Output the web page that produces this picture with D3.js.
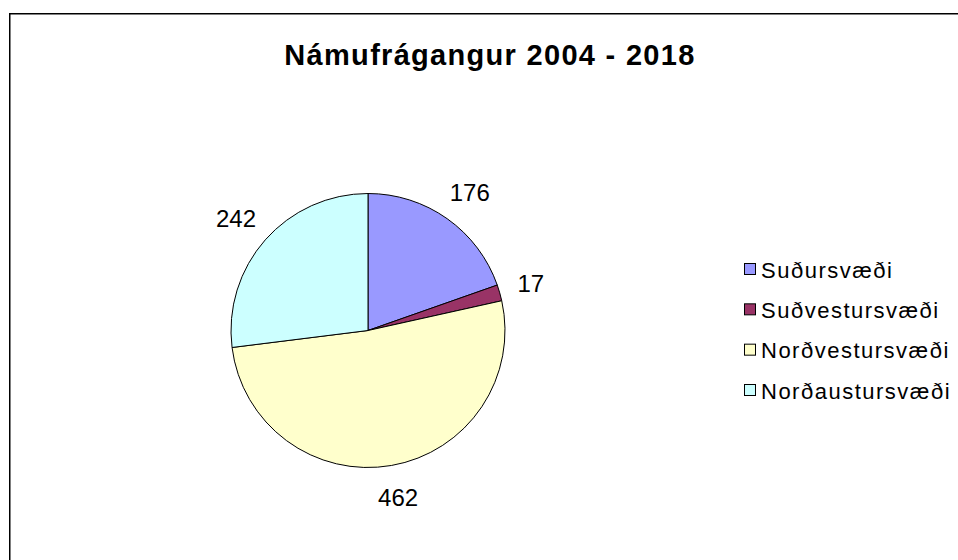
<!DOCTYPE html>
<html><head><meta charset="utf-8">
<script src="https://cdn.jsdelivr.net/npm/d3@7"></script>
<style>html,body{margin:0;padding:0;background:#fff;overflow:hidden}</style>
</head><body>
<svg id="c" width="958" height="560"></svg>
<script>
const title = "Námufrágangur 2004 - 2018";
const categories = ["Suðursvæði", "Suðvestursvæði", "Norðvestursvæði", "Norðaustursvæði"];
const values = [176, 17, 462, 242];
const colors = ["#9999FF", "#993366", "#FFFFCC", "#CCFFFF"];

const svg = d3.select("#c");
const font = "'Liberation Sans', Arial, sans-serif";

svg.append("rect").attr("x", 9.75).attr("y", 13.75).attr("width", 1200).attr("height", 1200)
  .attr("fill", "#fff").attr("stroke", "#000").attr("stroke-width", 1.5);

svg.append("text").attr("x", 490).attr("y", 65).attr("text-anchor", "middle")
  .attr("font-family", font).attr("font-weight", "bold").attr("font-size", 29)
  .attr("letter-spacing", 1.3).text(title);

const cx = 368, cy = 330.5, r = 137;
const color = d3.scaleOrdinal().domain(categories).range(colors);
const pie = d3.pie().sort(null).value(d => d.v);
const data = categories.map((c, i) => ({c, v: values[i]}));
const arcs = pie(data);
const arc = d3.arc().innerRadius(0).outerRadius(r);
const g = svg.append("g").attr("transform", `translate(${cx},${cy})`);
g.selectAll("path").data(arcs).join("path")
  .attr("d", arc).attr("fill", d => color(d.data.c))
  .attr("stroke", "#000").attr("stroke-width", 1);

const labelArc = d3.arc().innerRadius(r + 19).outerRadius(r + 19);
g.selectAll("text.lab").data(arcs).join("text").attr("class", "lab")
  .attr("font-family", font).attr("font-size", 24)
  .attr("text-anchor", "middle").attr("dominant-baseline", "central")
  .text(d => d.data.v)
  .attr("transform", function(d) {
    const bb = this.getBBox();
    const [x, y] = labelArc.centroid(d);
    const a = (d.startAngle + d.endAngle) / 2;
    return `translate(${x + Math.sin(a) * bb.width / 2},${y - Math.cos(a) * bb.height / 2})`;
  });

const ly = d3.scalePoint().domain(categories).range([269, 390]);
const lg = svg.append("g");
const items = lg.selectAll("g").data(categories).join("g")
  .attr("transform", d => `translate(744,${ly(d)})`);
items.append("rect").attr("x", 0.5).attr("y", -5.5).attr("width", 11).attr("height", 11)
  .attr("fill", d => color(d)).attr("stroke", "#000").attr("stroke-width", 1);
items.append("text").attr("x", 17).attr("y", 1).attr("dominant-baseline", "central")
  .attr("font-family", font).attr("font-size", 22).attr("letter-spacing", 1.5)
  .text(d => d);
</script>
</body></html>
